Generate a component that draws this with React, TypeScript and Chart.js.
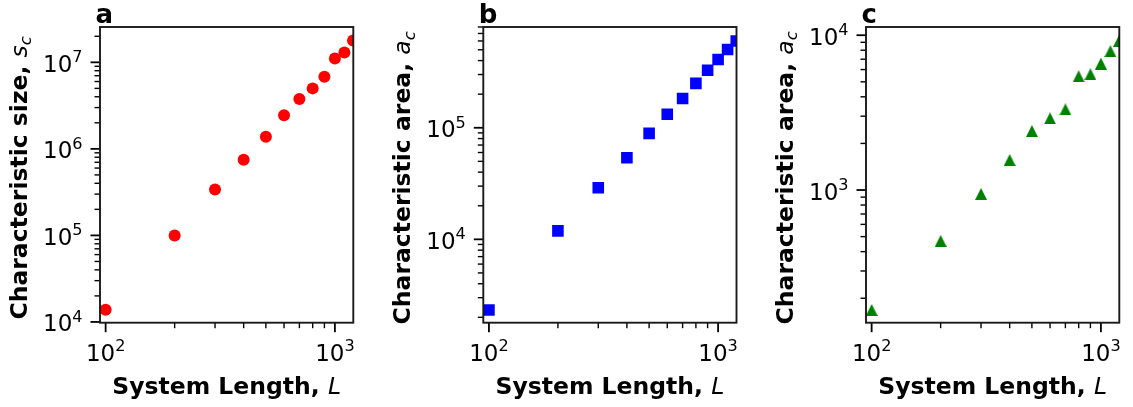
import React, { useEffect, useRef } from "react";
import { Chart, registerables } from "chart.js";

Chart.register(...registerables);

// System length L for every run
const systemLength = [100, 200, 300, 400, 500, 600, 700, 800, 900, 1000, 1100, 1200];

// (a) characteristic size s_c
const characteristicSize = [
  1.38e4, 1.0e5, 3.4e5, 7.5e5, 1.38e6, 2.45e6, 3.76e6, 5.0e6, 6.8e6, 1.11e7, 1.3e7, 1.79e7,
];

// (b) characteristic area a_c
const characteristicAreaB = [
  2.33e3, 1.19e4, 2.9e4, 5.38e4, 8.9e4, 1.32e5, 1.83e5, 2.5e5, 3.28e5, 4.09e5, 5.03e5, 6.0e5,
];

// (c) characteristic area a_c
const characteristicAreaC = [
  168, 469, 943, 1563, 2404, 2904, 3321, 5430, 5600, 6560, 7890, 9190,
];

// Decade tick labels (exponents of 10)
const xTickExponents = [2, 3];
const yTickExponentsA = [4, 5, 6, 7];
const yTickExponentsB = [4, 5];
const yTickExponentsC = [3, 4];

const WIDTH = 1133;
const HEIGHT = 407;
const FAMILY = "'DejaVu Sans'";
const TICK_FONT = 23;
const LABEL_FONT = 23.5;
const LETTER_FONT = 26;

type Area = { left: number; right: number; top: number; bottom: number };

type Panel = {
  letter: string;
  values: number[];
  color: string;
  marker: "circle" | "rect" | "triangle";
  radius: number;
  yWord: string;
  yVar: string;
  xMin: number;
  xMax: number;
  yMin: number;
  yMax: number;
  yTicks: number[];
  area: Area;
};

const panels: Panel[] = [
  {
    letter: "a",
    values: characteristicSize,
    color: "#ff0000",
    marker: "circle",
    radius: 6,
    yWord: "size",
    yVar: "s",
    xMin: 94.5,
    xMax: 1203,
    yMin: 9.8e3,
    yMax: 2.56e7,
    yTicks: yTickExponentsA,
    area: { left: 100, right: 353.3, top: 27, bottom: 322.7 },
  },
  {
    letter: "b",
    values: characteristicAreaB,
    color: "#0000ff",
    marker: "rect",
    radius: 8.2,
    yWord: "area",
    yVar: "a",
    xMin: 94.5,
    xMax: 1203,
    yMin: 1.79e3,
    yMax: 8.0e5,
    yTicks: yTickExponentsB,
    area: { left: 483.3, right: 736.5, top: 27, bottom: 322.7 },
  },
  {
    letter: "c",
    values: characteristicAreaC,
    color: "#008000",
    marker: "triangle",
    radius: 6,
    yWord: "area",
    yVar: "a",
    xMin: 94.5,
    xMax: 1203,
    yMin: 139,
    yMax: 1.13e4,
    yTicks: yTickExponentsC,
    area: { left: 866, right: 1119.3, top: 27, bottom: 322.7 },
  },
];

// Upward triangle whose bounding box is centred on the data point
function triangleMarker(color: string, size: number): HTMLCanvasElement {
  const c = document.createElement("canvas");
  c.width = size;
  c.height = size;
  const g = c.getContext("2d")!;
  g.fillStyle = color;
  g.beginPath();
  g.moveTo(size / 2, 0);
  g.lineTo(size, size);
  g.lineTo(0, size);
  g.closePath();
  g.fill();
  return c;
}

// Major (1 x 10^n) and minor (2..9 x 10^n) tick values inside a range
function logTicks(min: number, max: number) {
  const out: { value: number; major: boolean }[] = [];
  const lo = Math.floor(Math.log10(min));
  const hi = Math.ceil(Math.log10(max));
  for (let e = lo; e <= hi; e++) {
    for (let m = 1; m <= 9; m++) {
      const v = m * Math.pow(10, e);
      if (v >= min * 0.9999 && v <= max * 1.0001) out.push({ value: v, major: m === 1 });
    }
  }
  return out;
}

// "10" with a raised exponent
function drawPower(
  ctx: CanvasRenderingContext2D,
  x: number,
  baseline: number,
  exp: number,
  align: "center" | "right"
) {
  ctx.textAlign = "left";
  ctx.textBaseline = "alphabetic";
  ctx.font = `${TICK_FONT}px ${FAMILY}`;
  const w1 = ctx.measureText("10").width;
  ctx.font = `${TICK_FONT * 0.7}px ${FAMILY}`;
  const w2 = ctx.measureText(String(exp)).width;
  const total = w1 + w2;
  const x0 = align === "center" ? x - total / 2 : x - total;
  ctx.font = `${TICK_FONT}px ${FAMILY}`;
  ctx.fillText("10", x0, baseline);
  ctx.font = `${TICK_FONT * 0.7}px ${FAMILY}`;
  ctx.fillText(String(exp), x0 + w1, baseline - 9.5);
}

function makeAxesPlugin(panel: Panel) {
  return {
    id: "panelAxes",
    afterDatasetsDraw(chart: Chart) {
      const { ctx, chartArea } = chart;
      const { left, right, top, bottom } = chartArea;
      const xs = chart.scales.x;
      const ys = chart.scales.y;
      ctx.save();
      ctx.strokeStyle = "#000";
      ctx.fillStyle = "#000";

      // tick marks, outward on the bottom and left spines
      for (const t of logTicks(panel.xMin, panel.xMax)) {
        const px = xs.getPixelForValue(t.value);
        ctx.lineWidth = t.major ? 1.8 : 1.4;
        const len = t.major ? 9.5 : 5.5;
        ctx.beginPath();
        ctx.moveTo(px, bottom);
        ctx.lineTo(px, bottom + len);
        ctx.stroke();
      }
      for (const t of logTicks(panel.yMin, panel.yMax)) {
        const py = ys.getPixelForValue(t.value);
        ctx.lineWidth = t.major ? 1.8 : 1.4;
        const len = t.major ? 9.5 : 5.5;
        ctx.beginPath();
        ctx.moveTo(left, py);
        ctx.lineTo(left - len, py);
        ctx.stroke();
      }

      // spines
      ctx.lineWidth = 1.9;
      ctx.strokeStyle = "#1a1a1a";
      ctx.strokeRect(left, top, right - left, bottom - top);

      // tick labels
      for (const e of xTickExponents) {
        const px = xs.getPixelForValue(Math.pow(10, e));
        drawPower(ctx, px, bottom + 38, e, "center");
      }
      for (const e of panel.yTicks) {
        const py = ys.getPixelForValue(Math.pow(10, e));
        drawPower(ctx, left - 17.5, py + 9.5, e, "right");
      }

      // x axis title
      const boldFont = `bold ${LABEL_FONT}px ${FAMILY}`;
      const italFont = `italic ${LABEL_FONT}px ${FAMILY}`;
      const subFont = `italic ${LABEL_FONT * 0.7}px ${FAMILY}`;
      ctx.textAlign = "left";
      ctx.textBaseline = "alphabetic";
      const xMain = "System Length, ";
      ctx.font = boldFont;
      const wx1 = ctx.measureText(xMain).width;
      ctx.font = italFont;
      const wx2 = ctx.measureText("L").width;
      const cx = (left + right) / 2;
      const x0 = cx - (wx1 + wx2) / 2;
      ctx.font = boldFont;
      ctx.fillText(xMain, x0, 394);
      ctx.font = italFont;
      ctx.fillText("L", x0 + wx1, 394);

      // y axis title, rotated
      const yMain = `Characteristic ${panel.yWord}, `;
      ctx.font = boldFont;
      const wy1 = ctx.measureText(yMain).width;
      ctx.font = italFont;
      const wy2 = ctx.measureText(panel.yVar).width;
      ctx.font = subFont;
      const wy3 = ctx.measureText("c").width;
      ctx.save();
      ctx.translate(left - 73.5, (top + bottom) / 2 + 3);
      ctx.rotate(-Math.PI / 2);
      const y0 = -(wy1 + wy2 + wy3) / 2;
      ctx.font = boldFont;
      ctx.fillText(yMain, y0, 0);
      ctx.font = italFont;
      ctx.fillText(panel.yVar, y0 + wy1, 0);
      ctx.font = subFont;
      ctx.fillText("c", y0 + wy1 + wy2, LABEL_FONT * 0.2);
      ctx.restore();

      // panel letter
      ctx.font = `bold ${LETTER_FONT}px ${FAMILY}`;
      ctx.fillText(panel.letter, left - 4.5, 22.7);

      ctx.restore();
    },
  };
}

function PanelChart({ panel }: { panel: Panel }) {
  const ref = useRef<HTMLCanvasElement | null>(null);

  useEffect(() => {
    if (!ref.current) return;
    const style =
      panel.marker === "triangle" ? triangleMarker(panel.color, 12) : panel.marker;
    const chart = new Chart(ref.current, {
      type: "scatter",
      data: {
        datasets: [
          {
            data: systemLength.map((x, i) => ({ x, y: panel.values[i] })),
            pointStyle: style as any,
            pointRadius: panel.radius,
            pointBackgroundColor: panel.color,
            pointBorderWidth: 0,
            clip: 0,
          } as any,
        ],
      },
      options: {
        animation: false,
        responsive: false,
        events: [],
        layout: {
          padding: {
            left: panel.area.left,
            right: WIDTH - panel.area.right,
            top: panel.area.top,
            bottom: HEIGHT - panel.area.bottom,
          },
        },
        scales: {
          x: { type: "logarithmic", min: panel.xMin, max: panel.xMax, display: false },
          y: { type: "logarithmic", min: panel.yMin, max: panel.yMax, display: false },
        },
        plugins: {
          legend: { display: false },
          tooltip: { enabled: false },
        },
      },
      plugins: [makeAxesPlugin(panel)],
    });
    return () => chart.destroy();
  }, [panel]);

  return (
    <canvas
      ref={ref}
      width={WIDTH}
      height={HEIGHT}
      style={{ position: "absolute", left: 0, top: 0, width: WIDTH, height: HEIGHT }}
    />
  );
}

export default function App() {
  return (
    <div
      style={{
        position: "absolute",
        left: 0,
        top: 0,
        width: WIDTH,
        height: HEIGHT,
        background: "#fff",
      }}
    >
      {panels.map((p) => (
        <PanelChart key={p.letter} panel={p} />
      ))}
    </div>
  );
}
